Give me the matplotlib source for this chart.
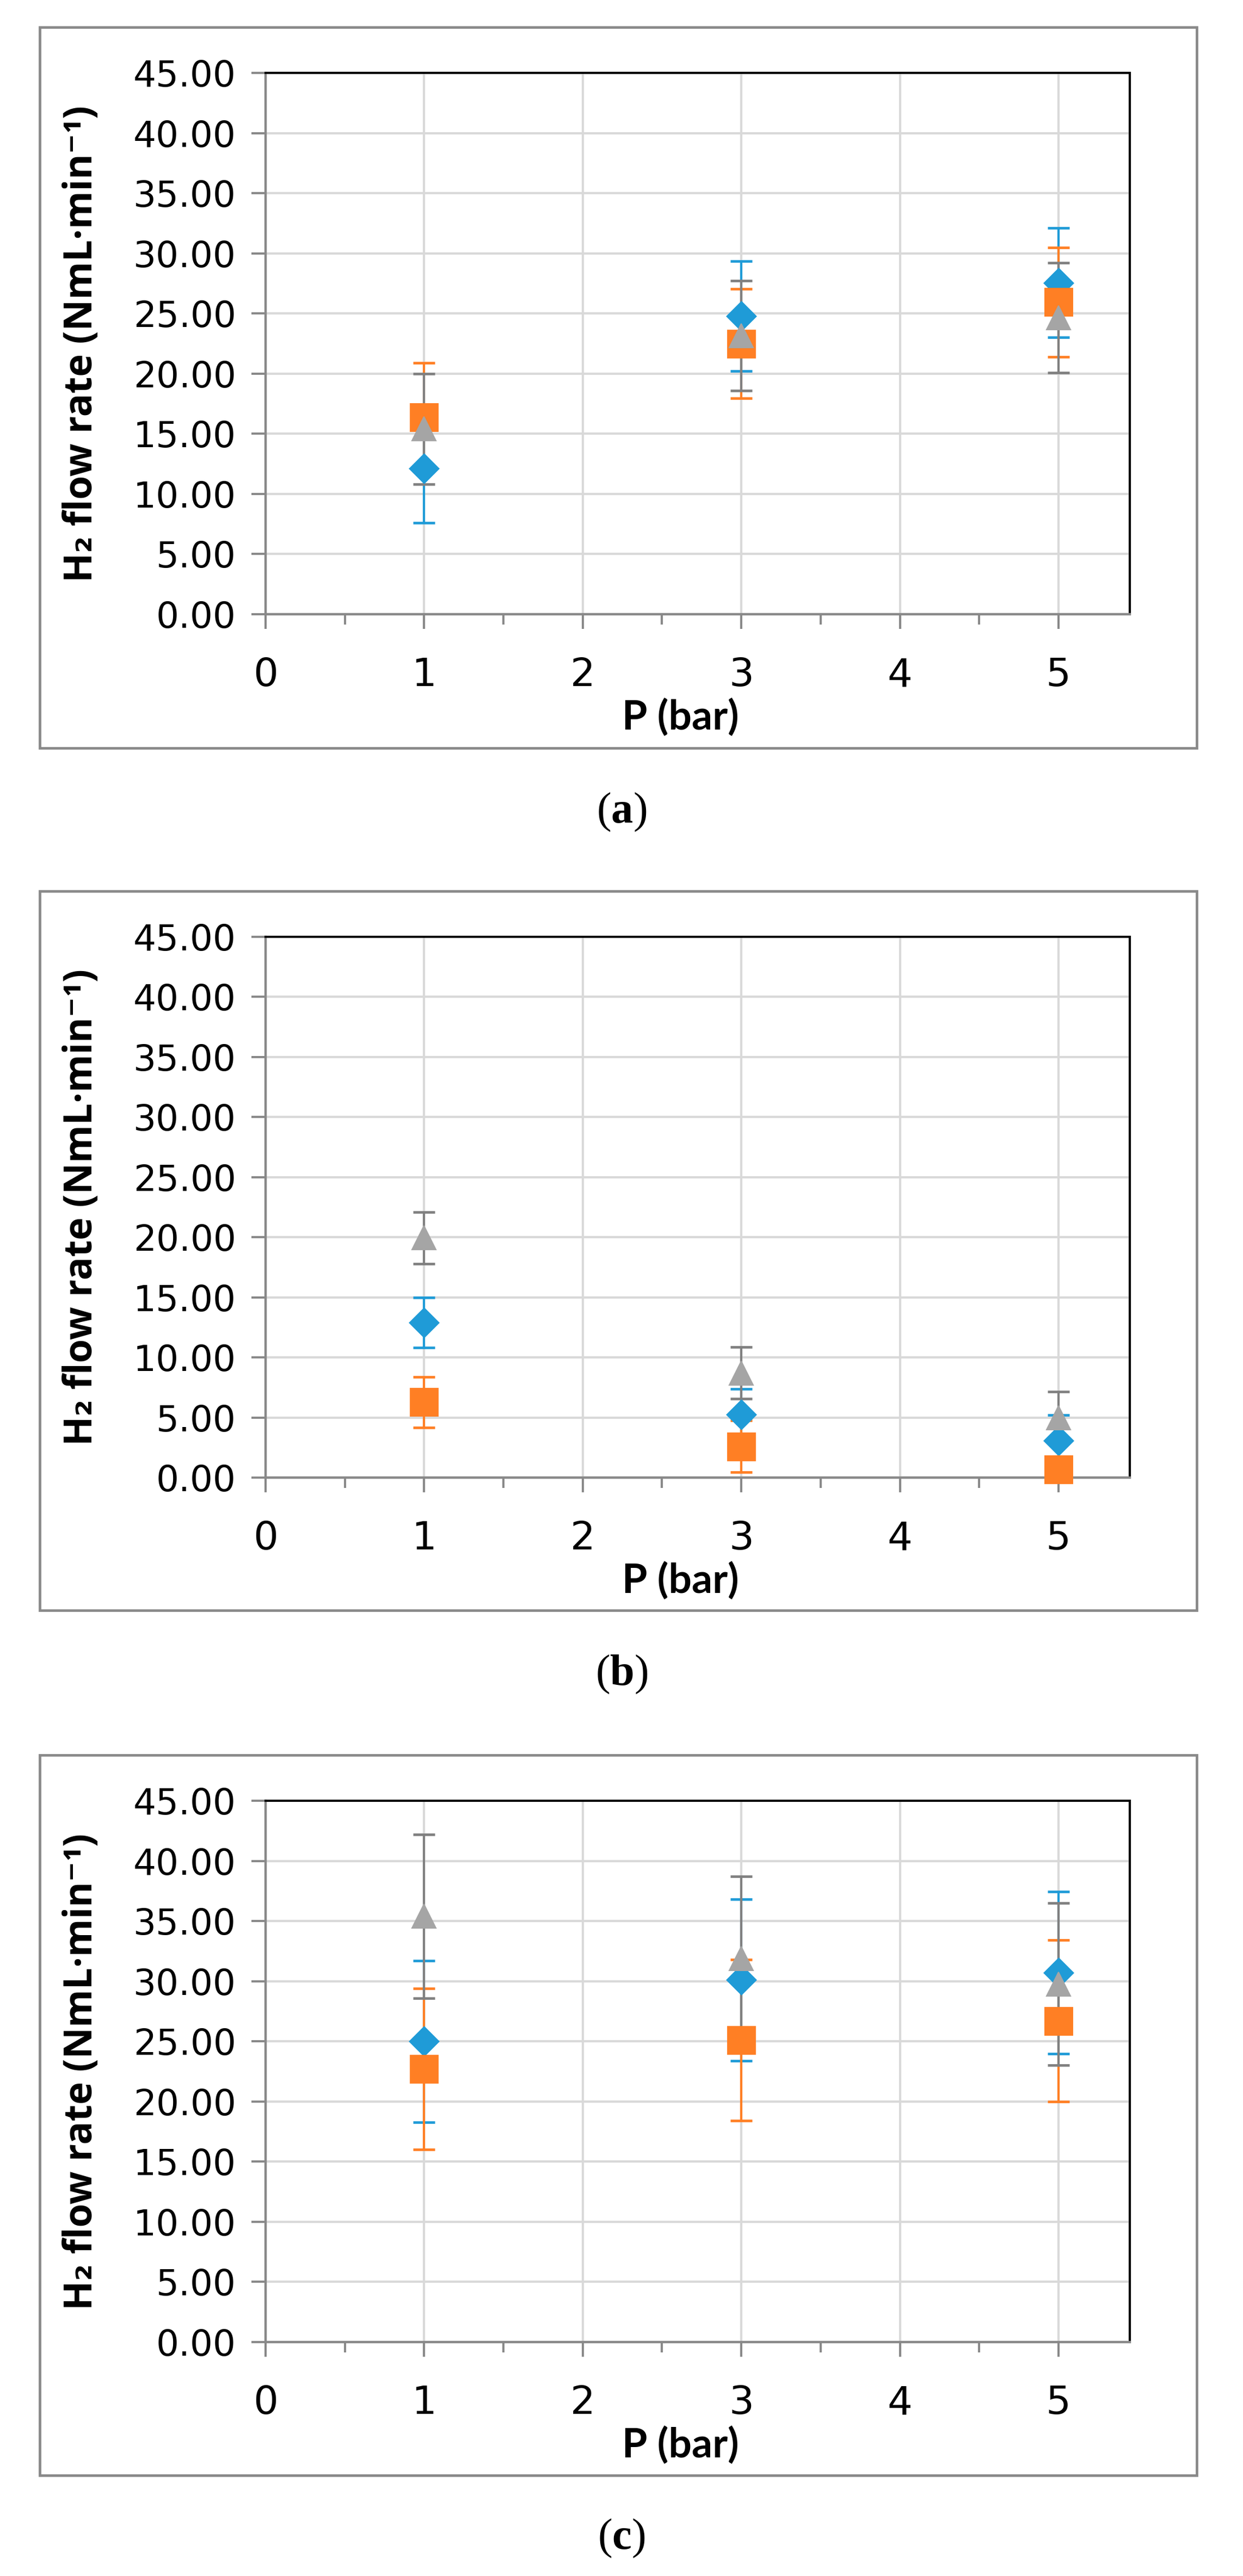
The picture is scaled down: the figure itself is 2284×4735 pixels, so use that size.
import matplotlib
matplotlib.use("Agg")
import matplotlib.pyplot as plt
from matplotlib.patches import Rectangle
from matplotlib.ticker import FormatStrFormatter
import numpy as np

plt.rcParams['font.family'] = ['DejaVu Sans']
plt.rcParams['mathtext.fontset'] = 'custom'
plt.rcParams['mathtext.rm'] = 'Liberation Serif'
plt.rcParams['mathtext.bf'] = 'Liberation Serif:bold'

# data
pressure = [1, 3, 5]

a_blue = [12.1, 24.8, 27.56]
a_blue_err = [4.5, 4.57, 4.55]
a_orange = [16.37, 22.5, 25.94]
a_orange_err = [4.53, 4.54, 4.54]
a_grey = [15.4, 23.16, 24.65]
a_grey_err = [4.58, 4.56, 4.57]

b_blue = [12.9, 5.25, 3.1]
b_blue_err = [2.1, 2.15, 2.1]
b_orange = [6.28, 2.6, 0.7]
b_orange_err = [2.11, 2.15, 2.15]
b_grey = [19.95, 8.7, 5.0]
b_grey_err = [2.15, 2.15, 2.15]

c_blue = [25.0, 30.1, 30.7]
c_blue_err = [6.72, 6.7, 6.73]
c_orange = [22.7, 25.1, 26.7]
c_orange_err = [6.7, 6.7, 6.7]
c_grey = [35.4, 31.9, 29.75]
c_grey_err = [6.8, 6.8, 6.75]

panel_names = ['a', 'b', 'c']
y_ticks = [0, 5, 10, 15, 20, 25, 30, 35, 40, 45]
x_ticks = [0, 1, 2, 3, 4, 5]

panels = [
    (a_blue, a_blue_err, a_orange, a_orange_err, a_grey, a_grey_err),
    (b_blue, b_blue_err, b_orange, b_orange_err, b_grey, b_grey_err),
    (c_blue, c_blue_err, c_orange, c_orange_err, c_grey, c_grey_err),
]

W, H = 2284, 4735
fig = plt.figure(figsize=(W / 100, H / 100), dpi=100)
fig.patch.set_facecolor('white')

BLUE = '#1F9BD7'
ORANGE = '#FF7F24'
GREY = '#A5A5A5'
GREY_ERR = '#808080'
AXIS = '#898989'

# pixel layout: (frame top, frame bottom, plot top, plot bottom, label y)
layout = [
    (50, 1375, 134, 1129, 1493),
    (1638, 2960, 1722, 2716, 3078),
    (3226, 4550, 3310, 4305, 4666),
]
plot_left, plot_right = 488, 2076

for name, data, (ft, fb, pt, pb, ly) in zip(panel_names, panels, layout):
    blue, blue_e, orange, orange_e, grey, grey_e = data

    # outer chart frame
    fig.patches.append(Rectangle((73 / W, 1 - fb / H), (2199 - 73) / W, (fb - ft) / H,
                                 transform=fig.transFigure, fill=False,
                                 edgecolor=AXIS, linewidth=3.4))

    ax = fig.add_axes([plot_left / W, 1 - pb / H, (plot_right - plot_left) / W, (pb - pt) / H])
    ax.set_xlim(0, 5.45)
    ax.set_ylim(0, 45)
    ax.set_xticks(x_ticks)
    ax.set_xticks(np.arange(0.5, 5.0, 1.0), minor=True)
    ax.set_yticks(y_ticks)
    ax.yaxis.set_major_formatter(FormatStrFormatter('%.2f'))
    ax.grid(True, which='major', color='#D9D9D9', linewidth=3)
    ax.set_axisbelow(True)

    for s in ['left', 'bottom']:
        ax.spines[s].set_color(AXIS)
        ax.spines[s].set_linewidth(3.2)
    for s in ['top', 'right']:
        ax.spines[s].set_color('black')
        ax.spines[s].set_linewidth(2.9)

    ax.tick_params(axis='x', which='major', direction='out', length=19.5, width=2.9,
                   color=AXIS, pad=37, labelsize=52)
    ax.tick_params(axis='x', which='minor', direction='out', length=14, width=2.9, color=AXIS)
    ax.tick_params(axis='y', which='major', direction='out', length=19, width=2.9,
                   color=AXIS, pad=20, labelsize=47.5)

    # error bars first, markers on top
    for vals, errs, col in [(blue, blue_e, BLUE), (orange, orange_e, ORANGE), (grey, grey_e, GREY_ERR)]:
        ax.errorbar(pressure, vals, yerr=errs, fmt='none', ecolor=col, elinewidth=3,
                    capsize=14.4, capthick=3.4, zorder=3)

    ax.plot(pressure, blue, linestyle='none', marker='D', markersize=26, color=BLUE,
            markeredgewidth=2.5, markeredgecolor=BLUE, zorder=4, clip_on=False)
    ax.plot(pressure, orange, linestyle='none', marker='s', markersize=35, color=ORANGE,
            markeredgewidth=3.5, markeredgecolor=ORANGE, zorder=5, clip_on=False)
    ax.plot(pressure, grey, linestyle='none', marker='^', markersize=31, color=GREY,
            markeredgewidth=1.5, markeredgecolor=GREY, zorder=6, clip_on=False)

    # axis titles
    fig.text(1250 / W, 1 - (pb + 190) / H, 'P (bar)', family=['Lato', 'DejaVu Sans'],
             fontweight='bold', fontsize=54, ha='center', va='center')
    fig.text(150 / W, 1 - ((pt + pb) / 2) / H, 'H₂ flow rate (NmL·min⁻¹)',
             family=['Open Sans', 'DejaVu Sans'], fontweight='bold', fontsize=51,
             rotation=90, ha='center', va='center')

    # panel label
    fig.text(1142 / W, 1 - ly / H, '($\\mathbf{' + name + '}$)', family='Liberation Serif',
             fontsize=58, ha='center', va='center')

fig.savefig('out.png', dpi=100, facecolor='white')
